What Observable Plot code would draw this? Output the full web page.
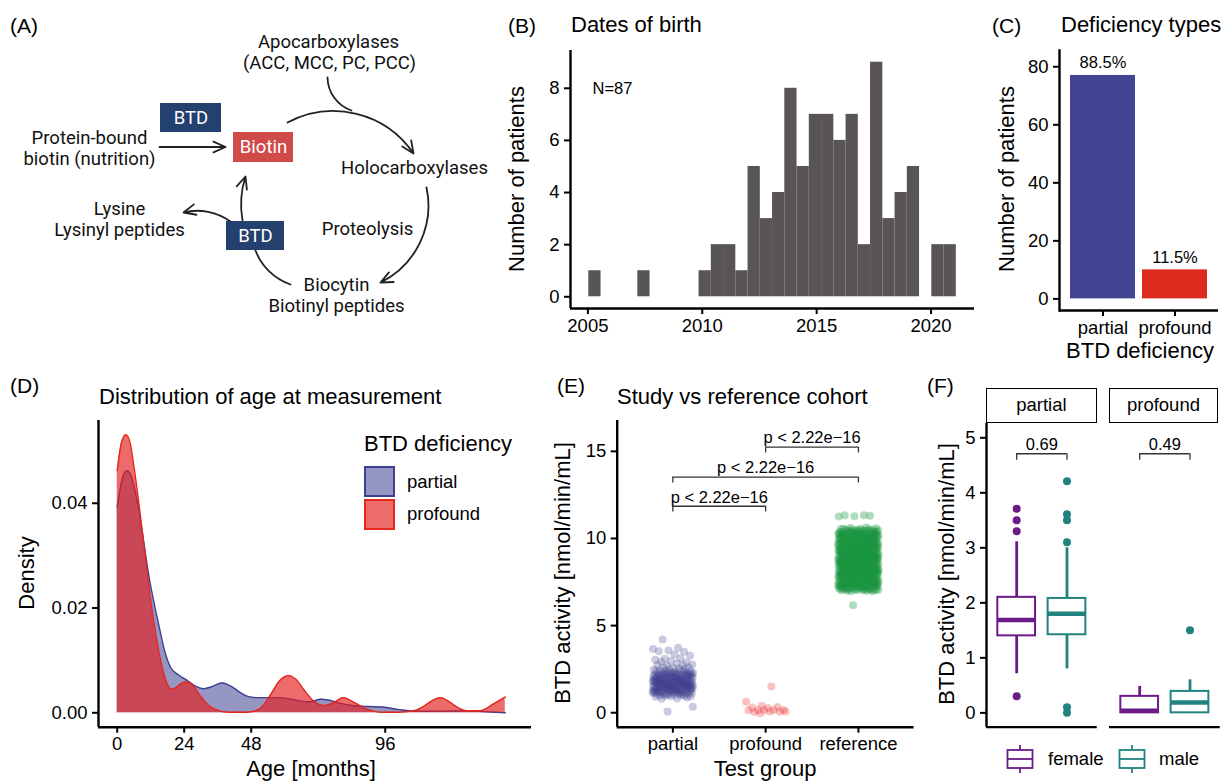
<!DOCTYPE html>
<html><head><meta charset="utf-8">
<script src="https://cdn.jsdelivr.net/npm/d3@7"></script>
<script src="https://cdn.jsdelivr.net/npm/@observablehq/plot@0.6"></script>
<style>
body{margin:0;background:#fff;}
#fig{position:relative;width:1226px;height:782px;overflow:hidden;font-family:"Liberation Sans",Arial,Helvetica,sans-serif;color:#000;background:#fff;}
.t{position:absolute;white-space:nowrap;line-height:1;}
</style></head><body><div id="fig"></div>
<script>
// ---------------- DATA ----------------
// (A) pathway diagram
const diagramBoxLabels = ["BTD", "Biotin", "BTD"];
const diagramBoxKinds = ["enzyme", "vitamin", "enzyme"];
const diagramBoxX1 = [160, 233, 226], diagramBoxX2 = [221, 293, 284];
const diagramBoxY1 = [103, 132, 221], diagramBoxY2 = [132, 162, 250];
const diagramTexts = ["Apocarboxylases", "(ACC, MCC, PC, PCC)", "Protein-bound", "biotin (nutrition)", "Holocarboxylases", "Proteolysis", "Biocytin", "Biotinyl peptides", "Lysine", "Lysinyl peptides"];
const diagramTextX = [328, 329, 89, 89, 414, 367, 336, 336, 119, 119];
const diagramTextY = [42, 63, 138, 159, 168, 229, 285, 306, 209, 230];
const arrowFrom = [[159,146.5],[287,122],[327,77],[426,187],[255,250],[242,220],[230,221]];
const arrowTo   = [[225,146.5],[413,153],[351,110],[380,282],[290,284],[245,176],[183,212]];
const arrowBend = [0, 42, -35, 38, -25, 14, -25];
const arrowHead = [true, true, false, true, false, true, true];

// (B) dates of birth histogram
const birthBinStart = 2005.04, birthBinWidth = 0.5355;
const birthCounts = [1,0,0,0,1,0,0,0,0,1,2,2,1,5,3,4,8,5,7,7,6,7,2,9,3,4,5,0,2,2];
const birthYearTicks = [2005, 2010, 2015, 2020];
const birthCountTicks = [0, 2, 4, 6, 8];

// (C) deficiency types
const defTypes = ["partial", "profound"];
const defCounts = [77, 10];
const defPercent = ["88.5%", "11.5%"];
const defColors = ["#424491", "#DC2A1C"];

// (D) density of age at measurement
const partialAge = [0,2,3.5,5,7,9,11,13,15,17,19,22,25,28,31,34,37.5,41,44,47,50,55,60,65,69,73,76,80,84,90,95,101,107,115,125,132,139];
const partialDens = [0.0393,0.0450,0.0462,0.0452,0.0408,0.0345,0.0272,0.0215,0.0165,0.0118,0.0088,0.0072,0.0062,0.0051,0.0046,0.0050,0.0057,0.0050,0.0039,0.0031,0.0029,0.0029,0.0028,0.0023,0.0021,0.0026,0.0024,0.0018,0.0014,0.0012,0.0011,0.0006,0.0003,0.0003,0.0004,0.0002,0.0000];
const profoundAge = [0,1.5,3.1,4.5,6,8,10,12,13.5,15,16.6,18,19.5,21,23,24.5,26,27.5,29,31,33,35,38,42,46,49,52,55,58,61.5,64,67,70,74,77.5,81,84.5,89,95,101,107,110,112.5,115.8,119,122,125,130,134.8,139];
const profoundDens = [0.0462,0.0515,0.0531,0.0518,0.0470,0.0390,0.0300,0.0215,0.0160,0.0115,0.0076,0.0054,0.0045,0.0048,0.0056,0.0059,0.0057,0.0050,0.0038,0.0024,0.0013,0.0007,0.0002,0.0001,0.0001,0.0003,0.0012,0.0035,0.0060,0.0071,0.0064,0.0043,0.0024,0.0014,0.0019,0.0029,0.0021,0.0008,0.0001,0.0001,0.0005,0.0013,0.0022,0.0029,0.0021,0.0010,0.0004,0.0004,0.0017,0.0030];
const ageTicks = [0, 24, 48, 96];
const densTicks = [0, 0.02, 0.04];

// (E) study vs reference cohort (value / number of measurements)
const testGroups = ["partial", "profound", "reference"];
const testColors = ["#3F3F91", "#E8282C", "#1A9641"];
const partialVals = [0.1,0.3,0.8,0.9,1.0,1.1,1.2,1.3,1.4,1.5,1.6,1.7,1.8,1.9,2.0,2.1,2.2,2.3,2.4,2.5,2.6,2.7,2.8,2.9,3.0,3.1,3.3,3.5,3.6,3.7,4.2];
const partialCounts = [1,1,2,3,6,10,13,14,15,15,15,15,15,14,13,12,11,9,6,4,3,3,2,2,2,2,2,2,2,1,1];
const profoundVals = [0.0,0.02,0.05,0.08,0.1,0.12,0.15,0.18,0.2,0.25,0.3,0.35,0.45,0.6,1.5];
const profoundCounts = [1,1,2,1,1,1,1,1,1,1,1,1,1,1,1];
const referenceVals = [6.2,7.0,7.1,7.2,7.3,7.4,7.5,7.6,7.7,7.8,7.9,8.0,8.1,8.2,8.3,8.4,8.5,8.6,8.7,8.8,8.9,9.0,9.1,9.2,9.3,9.4,9.5,9.6,9.7,9.8,9.9,10.0,10.1,10.2,10.3,10.4,10.5,10.6,11.3];
const referenceCounts = [1,8,12,14,15,15,15,15,15,15,15,16,16,16,16,16,16,16,16,16,16,15,15,15,15,15,15,15,15,15,15,14,14,14,14,12,9,5,5];
const compareFrom = [1, 1, 2], compareTo = [2, 3, 3];
const compareY = [11.85, 13.52, 15.24];
const compareLabel = ["p < 2.22e\u221216", "p < 2.22e\u221216", "p < 2.22e\u221216"];
const activityTicks = [0, 5, 10, 15];

// (F) BTD activity by sex within deficiency type
const sexes = ["female", "male"];
const sexColors = ["#6A1B87", "#21837F"];
const boxDef = ["partial", "partial", "profound", "profound"];
const boxSex = ["female", "male", "female", "male"];
const boxLo  = [0.71, 0.80, 0.00, 0.00];
const boxQ1  = [1.40, 1.42, 0.00, 0.00];
const boxMed = [1.69, 1.80, 0.04, 0.19];
const boxQ3  = [2.10, 2.08, 0.30, 0.39];
const boxHi  = [3.11, 3.00, 0.48, 0.60];
const outDef = ["partial","partial","partial","partial","partial","partial","partial","partial","partial","partial","profound"];
const outSex = ["female","female","female","female","male","male","male","male","male","male","male"];
const outVal = [3.71, 3.50, 3.30, 0.30, 4.21, 3.61, 3.50, 3.10, 0.10, 0.00, 1.50];
const sexPLabel = ["0.69", "0.49"];
const sexPY = 4.71;
const boxTicks = [0, 1, 2, 3, 4, 5];

// ---------------- HELPERS ----------------
const FONT = '"Liberation Sans", Arial, Helvetica, sans-serif';
const fig = document.getElementById("fig");
const baseStyle = {background: "transparent", fontFamily: FONT, fontSize: "18.5px", color: "#000", overflow: "visible"};
function put(el, left, top) {
  el.style.position = "absolute"; el.style.left = left + "px"; el.style.top = top + "px";
  fig.appendChild(el);
}
function label(txt, x, y, size, anchor = "start", rotate = false, family = null) {
  const d = document.createElement("div");
  d.className = "t"; d.textContent = txt;
  d.style.left = x + "px"; d.style.top = y + "px"; d.style.fontSize = size + "px";
  if (family) d.style.fontFamily = family;
  const tx = anchor === "start" ? "0" : anchor === "middle" ? "-50%" : "-100%";
  d.style.transform = `translate(${tx},-50%)` + (rotate ? " rotate(-90deg)" : "");
  fig.appendChild(d);
  return d;
}
const AX = 2.4; // axis line width
const intFmt = d => String(d);

// ---------------- (A) ----------------
const boxes = diagramBoxLabels.map((l, i) => ({label: l, kind: diagramBoxKinds[i], x1: diagramBoxX1[i], x2: diagramBoxX2[i], y1: diagramBoxY1[i], y2: diagramBoxY2[i]}));
const dTexts = diagramTexts.map((t, i) => ({t, x: diagramTextX[i], y: diagramTextY[i]}));
const arrows = arrowFrom.map((f, i) => ({x1: f[0], y1: f[1], x2: arrowTo[i][0], y2: arrowTo[i][1], bend: arrowBend[i], head: arrowHead[i]}));
const plotA = Plot.plot({
  width: 500, height: 330, margin: 0,
  style: {...baseStyle, fontFamily: "Roboto, " + FONT},
  x: {domain: [0, 500], range: [0, 500], axis: null},
  y: {domain: [0, 330], range: [0, 330], axis: null},
  color: {domain: ["enzyme", "vitamin"], range: ["#24406E", "#D04A4A"]},
  marks: [
    ...arrows.map(a => Plot.arrow([a], {x1: "x1", y1: "y1", x2: "x2", y2: "y2", bend: a.bend, headLength: a.head ? 11 : 0, headAngle: 48, stroke: "#222", strokeWidth: 1.8})),
    Plot.rect(boxes, {x1: "x1", x2: "x2", y1: "y1", y2: "y2", fill: "kind"}),
    Plot.text(boxes, {x: d => (d.x1 + d.x2) / 2, y: d => (d.y1 + d.y2) / 2, text: "label", fill: "white", fontSize: 18.5}),
    Plot.text(dTexts, {x: "x", y: "y", text: "t", fill: "#111", fontSize: 18.5})
  ]
});
put(plotA, 0, 0);
label("(A)", 10, 25, 21);

// ---------------- (B) ----------------
const birthBins = birthCounts.map((c, i) => ({x1: birthBinStart + i * birthBinWidth, x2: birthBinStart + (i + 1) * birthBinWidth, count: c}));
const bXmin = 2004.24, bYmin = -0.45;
const plotB = Plot.plot({
  width: 494, height: 300, marginLeft: 80, marginRight: 10, marginTop: 10, marginBottom: 32,
  style: baseStyle,
  x: {domain: [bXmin, 2021.9]},
  y: {domain: [bYmin, 9.45]},
  marks: [
    Plot.rect(birthBins, {x1: "x1", x2: "x2", y1: 0, y2: "count", fill: "#595554"}),
    Plot.text(["N=87"], {x: 2005.2, y: 8.0, text: d => d, textAnchor: "start", fontSize: 16.5}),
    Plot.axisX({ticks: birthYearTicks, tickFormat: intFmt, tickSize: 6, tickPadding: 4, strokeWidth: 2, label: null}),
    Plot.axisY({ticks: birthCountTicks, tickFormat: intFmt, tickSize: 6, tickPadding: 5, strokeWidth: 2, label: null}),
    Plot.ruleX([bXmin], {strokeWidth: AX}),
    Plot.ruleY([bYmin], {strokeWidth: AX})
  ]
});
put(plotB, 490, 40);
label("(B)", 508, 25, 21);
label("Dates of birth", 571, 25, 22);
label("Number of patients", 517, 179, 22, "middle", true);

// ---------------- (C) ----------------
const defRows = defTypes.map((t, i) => ({type: t, count: defCounts[i], pct: defPercent[i]}));
const cYmin = -4.0;
const plotC = Plot.plot({
  width: 236, height: 310, marginLeft: 69, marginRight: 8, marginTop: 10, marginBottom: 40,
  style: baseStyle,
  x: {domain: defTypes, paddingInner: 0.1, paddingOuter: 0.15},
  y: {domain: [cYmin, 85.6]},
  color: {domain: defTypes, range: defColors},
  marks: [
    Plot.barY(defRows, {x: "type", y1: 0, y2: "count", fill: "type"}),
    Plot.text(defRows, {x: "type", y: "count", text: "pct", dy: -12.5, fontSize: 16.5}),
    Plot.axisX({tickSize: 6, tickPadding: 4, strokeWidth: 2, label: null}),
    Plot.axisY({ticks: [0, 20, 40, 60, 80], tickFormat: intFmt, tickSize: 6, tickPadding: 5, strokeWidth: 2, label: null}),
    Plot.ruleY([cYmin], {strokeWidth: AX}),
    Plot.frame({anchor: "left", strokeWidth: AX})
  ]
});
put(plotC, 990, 40);
label("(C)", 992, 25, 21);
label("Deficiency types", 1061, 25, 22);
label("Number of patients", 1007, 179, 22, "middle", true);
label("BTD deficiency", 1140, 351, 22, "middle");

// ---------------- (D) ----------------
const partialRows = partialAge.map((a, i) => ({age: a, dens: partialDens[i]}));
const profoundRows = profoundAge.map((a, i) => ({age: a, dens: profoundDens[i]}));
const dXmin = -6.7, dYmin = -0.00275;
const plotD = Plot.plot({
  width: 511, height: 372, marginLeft: 68, marginRight: 10, marginTop: 10, marginBottom: 55.3,
  style: baseStyle,
  x: {domain: [dXmin, 148.4]},
  y: {domain: [dYmin, 0.0558]},
  marks: [
    Plot.areaY(partialRows, {x: "age", y: "dens", fill: "#3F3F91", fillOpacity: 0.55, curve: "monotone-x"}),
    Plot.lineY(partialRows, {x: "age", y: "dens", stroke: "#3F3F91", strokeWidth: 1.4, curve: "monotone-x"}),
    Plot.areaY(profoundRows, {x: "age", y: "dens", fill: "#E41E1E", fillOpacity: 0.66, curve: "monotone-x"}),
    Plot.lineY(profoundRows, {x: "age", y: "dens", stroke: "#E4281E", strokeWidth: 1.4, curve: "monotone-x"}),
    Plot.axisX({ticks: ageTicks, tickFormat: intFmt, tickSize: 6, tickPadding: 4, strokeWidth: 2, label: null}),
    Plot.axisY({ticks: densTicks, tickFormat: d3.format(".2f"), tickSize: 6, tickPadding: 5, strokeWidth: 2, label: null}),
    Plot.ruleX([dXmin], {strokeWidth: AX}),
    Plot.ruleY([dYmin], {strokeWidth: AX})
  ]
});
put(plotD, 30, 410);
label("(D)", 10, 385, 21);
label("Distribution of age at measurement", 99, 397, 22);
label("Density", 27, 573, 22, "middle", true);
label("Age [months]", 311, 769, 22, "middle");
// legend
label("BTD deficiency", 364, 444, 22);
function swatch(x, y, fill, stroke) {
  const d = document.createElement("div");
  Object.assign(d.style, {position: "absolute", left: x + "px", top: y + "px", width: "31px", height: "31px", boxSizing: "border-box", background: fill, border: "2px solid " + stroke});
  fig.appendChild(d);
}
swatch(364, 466, "rgba(63,63,145,0.55)", "#3F3F91");
swatch(364, 498.5, "rgba(228,30,30,0.66)", "#E4281E");
label("partial", 407, 482, 18.5);
label("profound", 407, 514, 18.5);

// ---------------- (E) ----------------
function expand(vals, counts, gi) {
  const out = []; let k = 0;
  vals.forEach((v, j) => { for (let c = 0; c < counts[j]; c++) out.push({group: testGroups[gi], g: gi + 1, v, k: k++}); });
  return out;
}
const ePoints = [
  ...expand(partialVals, partialCounts, 0),
  ...expand(profoundVals, profoundCounts, 1),
  ...expand(referenceVals, referenceCounts, 2)
];
// deterministic jitter (width +-0.22 group units)
ePoints.forEach(p => {
  p.xj = p.g + (((p.k * 0.6180339887 + 0.37) % 1) - 0.5) * 0.44;
  p.yj = p.v + (((p.k * 0.7548776662 + 0.21) % 1) - 0.5) * 0.1;
});
const compRows = compareFrom.map((a, i) => ({a, b: compareTo[i], y: compareY[i], lab: compareLabel[i]}));
const eXmin = 0.4, eYmin = -0.83;
const plotE = Plot.plot({
  width: 363.6, height: 356.7, marginLeft: 56.7, marginRight: 10, marginTop: 10, marginBottom: 40,
  style: baseStyle,
  x: {domain: [eXmin, 3.6]},
  y: {domain: [eYmin, 16.77]},
  color: {domain: testGroups, range: testColors},
  marks: [
    Plot.dot(ePoints, {x: "xj", y: "yj", fill: "group", fillOpacity: d => d.group === "reference" ? 0.34 : 0.28, r: 4}),
    Plot.ruleY(compRows, {x1: "a", x2: "b", y: "y", stroke: "#333", strokeWidth: 1.3}),
    Plot.ruleX(compRows, {x: "a", y1: d => d.y - 0.33, y2: "y", stroke: "#333", strokeWidth: 1.3}),
    Plot.ruleX(compRows, {x: "b", y1: d => d.y - 0.33, y2: "y", stroke: "#333", strokeWidth: 1.3}),
    Plot.text(compRows, {x: d => (d.a + d.b) / 2, y: "y", text: "lab", dy: -9, fontSize: 16.5}),
    Plot.axisX({ticks: [1, 2, 3], tickFormat: i => testGroups[i - 1], tickSize: 6, tickPadding: 4, strokeWidth: 2, label: null}),
    Plot.axisY({ticks: activityTicks, tickFormat: intFmt, tickSize: 6, tickPadding: 5, strokeWidth: 2, label: null}),
    Plot.ruleX([eXmin], {strokeWidth: AX}),
    Plot.ruleY([eYmin], {strokeWidth: AX})
  ]
});
put(plotE, 560, 410);
label("(E)", 557, 385, 21);
label("Study vs reference cohort", 617, 397, 22);
label("BTD activity [nmol/min/mL]", 563, 573, 22, "middle", true);
label("Test group", 765, 769, 22, "middle");

// ---------------- (F) ----------------
const boxRows = boxDef.map((d, i) => ({def: d, sex: boxSex[i], pos: sexes.indexOf(boxSex[i]) + 1, lo: boxLo[i], q1: boxQ1[i], med: boxMed[i], q3: boxQ3[i], hi: boxHi[i]}));
const outRows = outDef.map((d, i) => ({def: d, sex: outSex[i], pos: sexes.indexOf(outSex[i]) + 1, v: outVal[i]}));
const fYmin = -0.26;
function boxPanel(def, pLabel, showY) {
  const rows = boxRows.filter(r => r.def === def);
  const outs = outRows.filter(r => r.def === def);
  const ml = showY ? 56 : 5;
  return Plot.plot({
    width: ml + 110.7 + 5, height: 323.7, marginLeft: ml, marginRight: 5, marginTop: 10, marginBottom: 10,
    style: baseStyle,
    x: {domain: [0.4, 2.6], axis: null},
    y: {domain: [fYmin, 5.26], axis: null},
    color: {domain: sexes, range: sexColors},
    marks: [
      Plot.ruleX(rows, {x: "pos", y1: "q3", y2: "hi", stroke: "sex", strokeWidth: 2.8}),
      Plot.ruleX(rows, {x: "pos", y1: "lo", y2: "q1", stroke: "sex", strokeWidth: 2.8}),
      Plot.rect(rows, {x1: d => d.pos - 0.375, x2: d => d.pos + 0.375, y1: "q1", y2: "q3", fill: "white", stroke: "sex", strokeWidth: 2}),
      Plot.ruleY(rows, {x1: d => d.pos - 0.375, x2: d => d.pos + 0.375, y: "med", stroke: "sex", strokeWidth: 4.5}),
      Plot.dot(outs, {x: "pos", y: "v", fill: "sex", r: 4}),
      Plot.ruleY([sexPY], {x1: 1, x2: 2, stroke: "#333", strokeWidth: 1.3}),
      Plot.ruleX([1, 2], {x: d => d, y1: sexPY - 0.12, y2: sexPY, stroke: "#333", strokeWidth: 1.3}),
      Plot.text([pLabel], {x: 1.5, y: sexPY, text: d => d, dy: -9, fontSize: 16.5}),
      showY ? Plot.axisY({ticks: boxTicks, tickFormat: intFmt, tickSize: 6, tickPadding: 5, strokeWidth: 2, label: null}) : null,
      showY ? Plot.ruleX([0.4], {strokeWidth: AX}) : null,
      Plot.ruleY([fYmin], {strokeWidth: AX})
    ]
  });
}
put(boxPanel("partial", sexPLabel[0], true), 930, 413);
put(boxPanel("profound", sexPLabel[1], false), 1103.7, 413);
label("(F)", 927, 385, 21);
label("BTD activity [nmol/min/mL]", 947, 574, 22, "middle", true);
function strip(x1, x2, txt) {
  const d = document.createElement("div");
  Object.assign(d.style, {position: "absolute", left: x1 + "px", top: "387.7px", width: (x2 - x1) + "px", height: "35px", boxSizing: "border-box", border: "1.8px solid #000", display: "flex", alignItems: "center", justifyContent: "center", fontSize: "18.5px"});
  d.textContent = txt;
  fig.appendChild(d);
}
strip(986, 1096.7, "partial");
strip(1108.7, 1218.3, "profound");
// legend
function boxKey(x, color) {
  const ns = "http://www.w3.org/2000/svg";
  const s = document.createElementNS(ns, "svg");
  s.setAttribute("width", 30); s.setAttribute("height", 30);
  s.innerHTML = `<line x1="15" y1="1" x2="15" y2="29" stroke="${color}" stroke-width="1.8"/>` +
    `<rect x="2.5" y="6" width="25" height="18" fill="white" stroke="${color}" stroke-width="1.8"/>` +
    `<line x1="2.5" y1="15" x2="27.5" y2="15" stroke="${color}" stroke-width="1.8"/>`;
  s.style.position = "absolute"; s.style.left = x + "px"; s.style.top = "744px";
  fig.appendChild(s);
}
boxKey(1005, sexColors[0]);
boxKey(1117, sexColors[1]);
label("female", 1048, 759, 18.5);
label("male", 1159, 759, 18.5);
</script></body></html>
